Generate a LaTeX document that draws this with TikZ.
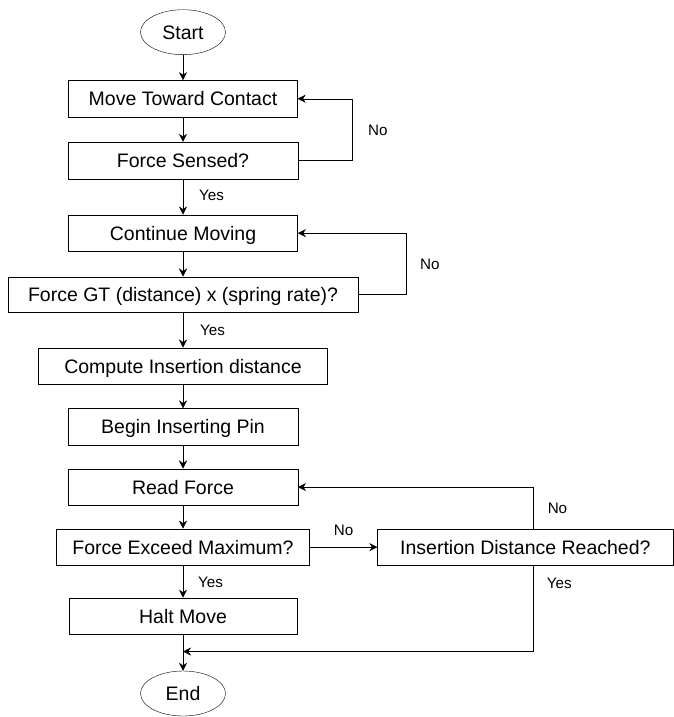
\documentclass[tikz,border=0pt]{standalone}
\usepackage{fontspec}
\setmainfont{Liberation Sans}
\usepackage{tikz}
\usetikzlibrary{positioning, arrows.meta, shapes.geometric}
\tikzset{
	>={Stealth[length=8pt, width=8pt]},
	line width=1.4pt,
	align=center,
	block/.style={draw, rectangle, minimum height=36.7pt, inner sep=0pt,
		text height=14pt, text depth=0pt, font=\fontsize{19.5}{23}\selectfont},
	terminal/.style={draw, ellipse, minimum width=85pt, minimum height=45pt, inner sep=0pt,
		text height=14pt, text depth=0pt, font=\fontsize{19.5}{23}\selectfont},
	lbl/.style={inner sep=0pt, text height=10.9pt, text depth=0pt, font=\fontsize{15.2}{18}\selectfont}
}

\begin{document}
\begin{tikzpicture}
	\useasboundingbox (0pt,0pt) rectangle (673pt,-717pt);
	\node[terminal] (start) at (183pt,-32.2pt) {Start};
	\node[block, minimum width=229pt, below=25.3pt of start] (move) {Move Toward Contact};
	\node[block, minimum width=229.4pt, below=24.6pt of move] (sensed) {Force Sensed?};
	\node[block, minimum width=229.3pt, below=35.6pt of sensed] (cont) {Continue Moving};
	\node[block, minimum width=350pt, minimum height=35pt, below=24.8pt of cont] (gt) {Force GT (distance) x (spring rate)?};
	\node[block, minimum width=289pt, below=35.6pt of gt] (comp) {Compute Insertion distance};
	\node[block, minimum width=230pt, below=23.8pt of comp] (begin) {Begin Inserting Pin};
	\node[block, minimum width=229.6pt, below=23pt of begin] (read) {Read Force};
	\node[block, minimum width=253pt, below=23pt of read] (exceed) {Force Exceed Maximum?};
	\node[block, minimum width=295.5pt, right=67.7pt of exceed] (reached) {Insertion Distance Reached?};
	\node[block, minimum width=228.3pt, below=32pt of exceed] (halt) {Halt Move};
	\node[terminal, below=36pt of halt] (end) {End};
	\coordinate[below=16.7pt of halt] (merge);

	\draw[->]
%	straight down
	(start) edge (move)
	(move) edge (sensed)
	(sensed) edge node[lbl, pos=0.45, right=16pt]{Yes} (cont)
	(cont) edge (gt)
	(gt) edge node[lbl, right=17pt]{Yes} (comp)
	(comp) edge (begin)
	(begin) edge (read)
	(read) edge (exceed)
	(exceed) edge node[lbl, right=15pt]{Yes} (halt)
	(halt) edge (end)
	(exceed) edge node[lbl, above=11pt]{No} (reached)
	;

%	loops back
	\draw[->] (sensed.east) -- ++(54pt,0) |- node[lbl, pos=0.25, right=16pt]{No} (move.east);
	\draw[->] (gt.east) -- ++(47.7pt,0) |- node[lbl, pos=0.25, right=14pt]{No} (cont.east);
	\draw[->] ([xshift=7.6pt]reached.north) |- node[lbl, pos=0.25, right=14.6pt]{No} (read.east);
	\draw[->] ([xshift=7.6pt]reached.south) |- node[lbl, pos=0.1, right=13.7pt]{Yes} (merge);
\end{tikzpicture}
\end{document}
